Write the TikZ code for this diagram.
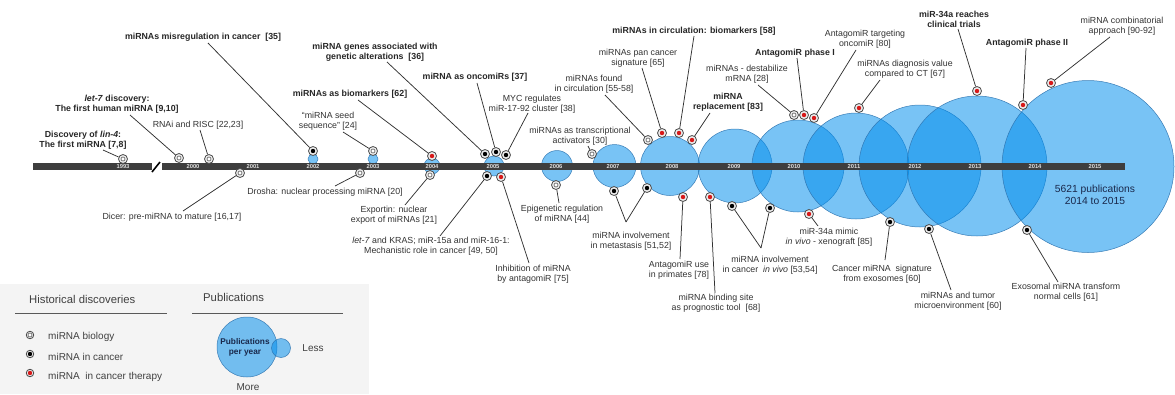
\documentclass[tikz,border=0pt]{standalone}
\usepackage{fontspec}
\setmainfont{Liberation Sans}
\definecolor{pubblue}{RGB}{0,141,236}
\definecolor{pubedge}{RGB}{45,115,175}
\definecolor{barc}{RGB}{62,62,62}
\definecolor{leadc}{RGB}{50,50,50}
\definecolor{txt}{RGB}{50,50,50}
\definecolor{navy}{RGB}{25,40,75}
\definecolor{mkred}{RGB}{215,25,25}
\definecolor{legbg}{RGB}{244,244,244}
\newcommand\fsz{\fontsize{8.8}{10.2}\selectfont}
\tikzset{
 pub/.style={circle, inner sep=0, minimum size=#1, fill=pubblue, fill opacity=.53, draw=pubedge, draw opacity=.9, line width=.5pt},
 lab/.style={align=center, inner sep=0, text=txt, font=\fsz},
 blab/.style={align=center, inner sep=0, text=black!85, font=\fsz\bfseries},
 leader/.style={draw=leadc, line width=.75pt},
 mk/.style={circle, inner sep=0, minimum size=9pt, draw=black!70, fill=gray!15, line width=.8pt},
 bio/.style={mk, path picture={\draw[black!65, line width=.6pt, fill=white] (path picture bounding box.center) circle (2pt);}},
 can/.style={mk, path picture={\fill[black] (path picture bounding box.center) circle (2.2pt);}},
 ther/.style={mk, path picture={\fill[mkred] (path picture bounding box.center) circle (2.2pt);}},
 yr/.style={inner sep=0, text=white!88!black, font=\fontsize{5.8}{6}\selectfont\bfseries},
 legtxt/.style={inner sep=0, anchor=west, text=black!75, font=\fontsize{10}{12}\selectfont},
 leghead/.style={inner sep=0, anchor=west, text=black!75, font=\fontsize{11.3}{13}\selectfont},
}
\begin{document}
\begin{tikzpicture}[x=1pt,y=-1pt]
\useasboundingbox (0,0) rectangle (1175,394);

% ---------- publication circles ----------
\node[pub=10pt] (c2002) at (313,159) {};
\node[pub=10pt] (c2003) at (373,159) {};
\node[pub=16pt] (c2004) at (432,166) {};
\node[pub=20pt] (c2005) at (494,166) {};
\node[pub=31pt] (c2006) at (557,166) {};
\node[pub=43pt] (c2007) at (614.5,166) {};
\node[pub=59pt] (c2008) at (670,166) {};
\node[pub=74pt] (c2009) at (735,166) {};
\node[pub=92pt] (c2010) at (798,166) {};
\node[pub=106pt] (c2011) at (856,166) {};
\node[pub=122pt] (c2012) at (920,166) {};
\node[pub=140pt] (c2013) at (977,166) {};
\node[pub=172pt] (c2015) at (1088,166.5) {};

% ---------- timeline bar ----------
\fill[barc] (33,163) rectangle (152,170);
\fill[barc] (162,163) rectangle (1125,170);
\draw[black, line width=1.6pt] (152,172) -- (160,162);

\foreach \x/\y in {123/1993,193/2000,253/2001,313/2002,373/2003,432/2004,493/2005,556/2006,613/2007,672/2008,734/2009,794/2010,854/2011,915/2012,975/2013,1035/2014,1095/2015}
  \node[yr] (y\y) at (\x,166.8) {\y};

\node[align=center, inner sep=0, text=navy, font=\fontsize{10.3}{12.2}\selectfont] (pubtxt) at (1095,195) {5621 publications\\2014 to 2015};

% ---------- markers ----------
\node[bio]  (m1)  at (123,159) {};
\node[bio]  (m2)  at (179,158) {};
\node[bio]  (m3)  at (209,159) {};
\node[can]  (m4)  at (313,151) {};
\node[bio]  (m5)  at (373,151) {};
\node[ther] (m6)  at (432,156) {};
\node[can]  (m7)  at (485,154) {};
\node[can]  (m8)  at (496,152) {};
\node[can]  (m9)  at (506,155) {};
\node[bio]  (m10) at (592,154) {};
\node[bio]  (m11) at (648,140) {};
\node[ther] (m12) at (662,133) {};
\node[ther] (m13) at (679,133) {};
\node[ther] (m14) at (692,140) {};
\node[bio]  (m15) at (794,115) {};
\node[ther] (m16) at (804,115) {};
\node[ther] (m17) at (814,118) {};
\node[ther] (m18) at (859,108) {};
\node[ther] (m19) at (977,91) {};
\node[ther] (m20) at (1023,105) {};
\node[ther] (m21) at (1051,83) {};
\node[bio]  (m22) at (240,173) {};
\node[bio]  (m23) at (360,173) {};
\node[bio]  (m24) at (430,175) {};
\node[can]  (m25) at (487,176) {};
\node[ther] (m26) at (501,177) {};
\node[bio]  (m27) at (556,185) {};
\node[can]  (m28a) at (614,191) {};
\node[can]  (m28b) at (647,188) {};
\node[ther] (m29) at (683,197) {};
\node[ther] (m30) at (710,197) {};
\node[can]  (m31a) at (732,206) {};
\node[can]  (m31b) at (770,208) {};
\node[ther] (m32) at (809,214) {};
\node[can]  (m33) at (890,222) {};
\node[can]  (m34) at (929,229) {};
\node[can]  (m35) at (1027,230) {};

% ---------- labels ----------
\node[blab] (l1)  at (83,140)  {Discovery of \textit{lin-4}:\\The first miRNA [7,8]};
\node[blab] (l2)  at (117,104) {\textit{let-7} discovery:\\The first human miRNA [9,10]};
\node[lab]  (l3)  at (198,125) {RNAi and RISC [22,23]};
\node[blab] (l4)  at (203,37)  {miRNAs misregulation in cancer~~[35]};
\node[lab]  (l5)  at (328,121) {“miRNA seed\\sequence” [24]};
\node[blab] (l6)  at (350,94)  {miRNAs as biomarkers [62]};
\node[blab] (l7)  at (375,52)  {miRNA genes associated with\\genetic alterations~~[36]};
\node[blab] (l8)  at (475,77)  {miRNA as oncomiRs [37]};
\node[lab]  (l9)  at (532,104) {MYC regulates\\miR-17-92 cluster [38]};
\node[lab]  (l10) at (580,136) {miRNAs as transcriptional\\activators [30]};
\node[lab]  (l11) at (594,84)  {miRNAs found\\in circulation [55-58]};
\node[lab]  (l12) at (638,58)  {miRNAs pan cancer\\signature [65]};
\node[blab] (l13) at (694,31)  {miRNAs in circulation: biomarkers [58]};
\node[blab] (l14) at (728,102) {miRNA\\replacement [83]};
\node[lab]  (l15) at (747,74)  {miRNAs - destabilize\\mRNA [28]};
\node[blab] (l16) at (795,53)  {AntagomiR phase I};
\node[lab]  (l17) at (865,39)  {AntagomiR targeting\\oncomiR [80]};
\node[lab]  (l18) at (905,69)  {miRNAs diagnosis value\\compared to CT [67]};
\node[blab] (l19) at (954,19.5) {miR-34a reaches\\clinical trials};
\node[blab] (l20) at (1027,43) {AntagomiR phase II};
\node[lab]  (l21) at (1122,26.5) {miRNA combinatorial\\approach [90-92]};
\node[lab]  (l22) at (172,217) {Dicer: pre-miRNA to mature [16,17]};
\node[lab]  (l23) at (325,192) {Drosha: nuclear processing miRNA [20]};
\node[lab]  (l24) at (394,215.5) {Exportin: nuclear\\export of miRNAs [21]};
\node[lab]  (l25) at (431,246) {\textit{let-7} and KRAS; miR-15a and miR-16-1:\\Mechanistic role in cancer [49, 50]};
\node[lab]  (l26) at (533,274) {Inhibition of miRNA\\by antagomiR [75]};
\node[lab]  (l27) at (562,214) {Epigenetic regulation\\of miRNA [44]};
\node[lab]  (l28) at (631,241) {miRNA involvement\\in metastasis [51,52]};
\node[lab]  (l29) at (679,270) {AntagomiR use\\in primates [78]};
\node[lab]  (l30) at (716,303) {miRNA binding site\\as prognostic tool~~[68]};
\node[lab]  (l31) at (770,265.5) {miRNA involvement\\in cancer~~\textit{in vivo} [53,54]};
\node[lab]  (l32) at (829,237) {miR-34a mimic\\\textit{in vivo} - xenograft [85]};
\node[lab]  (l33) at (882,274) {Cancer miRNA~~signature\\from exosomes [60]};
\node[lab]  (l34) at (958,301.5) {miRNAs and tumor\\microenvironment [60]};
\node[lab]  (l35) at (1066,292) {Exosomal miRNA transform\\normal cells [61]};

% ---------- leader start points ----------
\coordinate (s1) at (103,150);
\coordinate (s2) at (130,115);
\coordinate (s3) at (200,130);
\coordinate (s4) at (208,43);
\coordinate (s5) at (343,132);
\coordinate (s6) at (358,100);
\coordinate (s7) at (387,62);
\coordinate (s8) at (477,83);
\coordinate (s9) at (528,113);
\coordinate (s10) at (588,146);
\coordinate (s11) at (605,95);
\coordinate (s12) at (642,68);
\coordinate (s13) at (694,36);
\coordinate (s14) at (710,113);
\coordinate (s15) at (758,85);
\coordinate (s16) at (797,58);
\coordinate (s17) at (856,50);
\coordinate (s18) at (880,80);
\coordinate (s19) at (958,29);
\coordinate (s20) at (1026,48);
\coordinate (s21) at (1110,37);
\coordinate (s22) at (183,211);
\coordinate (s23) at (335,186);
\coordinate (s24) at (405,205);
\coordinate (s25) at (440,236);
\coordinate (s26) at (529,263);
\coordinate (s27) at (559,203);
\coordinate (s28) at (626,222);
\coordinate (s29) at (680,259);
\coordinate (s30) at (715,293);
\coordinate (s31) at (761,248);
\coordinate (s32) at (818,226);
\coordinate (s33) at (885,260);
\coordinate (s34) at (951,290);
\coordinate (s35) at (1058,282);

\foreach \i in {1,...,27,29,30,32,33,34,35}
  \draw[leader] (s\i) -- (m\i);
\draw[leader] (s28) -- (m28a);
\draw[leader] (s28) -- (m28b);
\draw[leader] (s31) -- (m31a);
\draw[leader] (s31) -- (m31b);

% ---------- legend ----------
\fill[legbg] (0,284) rectangle (369,394);
\node[leghead] (lh1) at (29,299) {Historical discoveries};
\node[leghead] (lh2) at (203,297) {Publications};
\draw[gray!70!black, line width=.9pt] (15,313) -- (167,313);
\draw[gray!70!black, line width=.9pt] (192,313) -- (343,313);
\node[bio, minimum size=7.5pt] (lk1) at (30,335) {};
\node[can, minimum size=7.5pt] (lk2) at (30,354) {};
\node[ther, minimum size=7.5pt] (lk3) at (30,373) {};
\node[legtxt] (lt1) at (48,337) {miRNA biology};
\node[legtxt] (lt2) at (48,357) {miRNA in cancer};
\node[legtxt] (lt3) at (48,377) {miRNA~~in cancer therapy};
\node[pub=60pt] (lc1) at (247,347) {};
\node[pub=19pt] (lc2) at (281,348) {};
\node[align=center, inner sep=0, text=navy, font=\fontsize{8.3}{10}\selectfont\bfseries] (lct) at (245,347) {Publications\\per year};
\node[legtxt, anchor=center] (lless) at (313,348) {Less};
\node[legtxt, anchor=center] (lmore) at (248,387) {More};
\end{tikzpicture}
\end{document}
